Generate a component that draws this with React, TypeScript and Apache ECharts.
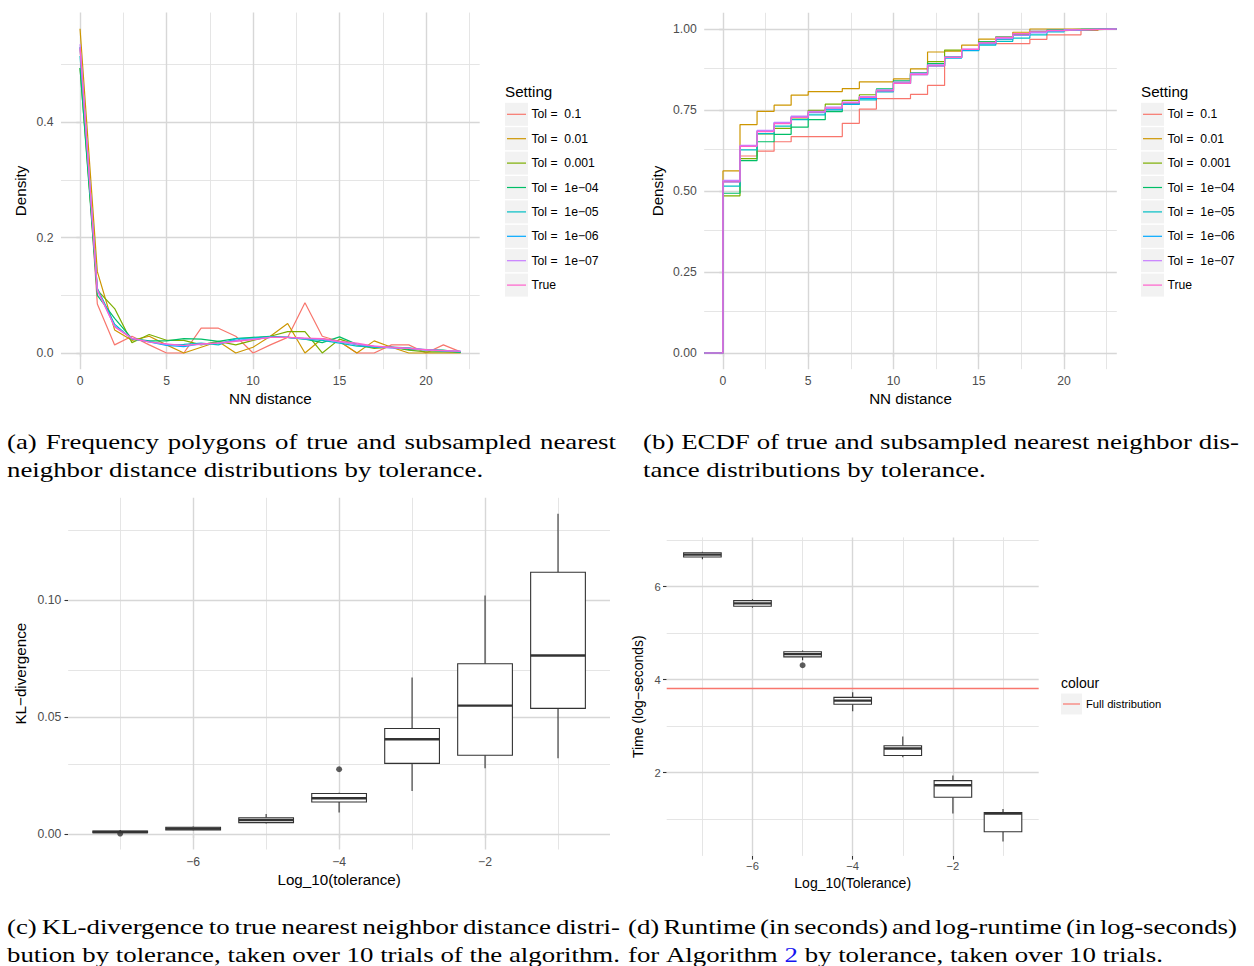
import React, { useEffect, useRef } from "react";
import * as echarts from "echarts";

// ---------- data ----------
// Nearest-neighbour distance (x of panels a and b)
const nnDistance = [0, 1, 2, 3, 4, 5, 6, 7, 8, 9, 10, 11, 12, 13, 14, 15, 16, 17, 18, 19, 20, 21, 22];

const settingLabels = [
  "Tol = \u00A00.1",
  "Tol = \u00A00.01",
  "Tol = \u00A00.001",
  "Tol = \u00A01e\u221204",
  "Tol = \u00A01e\u221205",
  "Tol = \u00A01e\u221206",
  "Tol = \u00A01e\u221207",
  "True",
];
const settingColors = ["#F8766D", "#CD9600", "#7CAE00", "#00BE67", "#00BFC4", "#00A9FF", "#C77CFF", "#FF61CC"];

// Frequency polygons (density per NN distance)
const densityTol1e1 = [0.53, 0.085, 0.014, 0.029, 0.014, 0, 0, 0.043, 0.043, 0.029, 0, 0.014, 0.027, 0.087, 0.029, 0.02, 0, 0, 0.014, 0.014, 0, 0.014, 0.002];
const densityTol1e2 = [0.562, 0.141, 0.04, 0.022, 0.029, 0.014, 0, 0.01, 0.02, 0, 0.01, 0.029, 0.051, 0, 0.025, 0.02, 0, 0.021, 0.01, 0, 0, 0, 0];
const densityTol1e3 = [0.494, 0.109, 0.077, 0.018, 0.032, 0.022, 0.022, 0.014, 0.02, 0.014, 0.022, 0.029, 0.037, 0.037, 0, 0.024, 0.014, 0.008, 0.01, 0.005, 0.002, 0.002, 0.001];
const densityTol1e4 = [0.494, 0.1, 0.06, 0.025, 0.021, 0.021, 0.025, 0.024, 0.02, 0.025, 0.027, 0.029, 0.027, 0.024, 0.018, 0.028, 0.015, 0.01, 0.01, 0.006, 0.006, 0.005, 0.001];
const densityTol1e5 = [0.515, 0.112, 0.05, 0.024, 0.02, 0.014, 0.015, 0.017, 0.014, 0.025, 0.026, 0.028, 0.027, 0.024, 0.022, 0.017, 0.012, 0.01, 0.01, 0.009, 0.005, 0.003, 0.002];
const densityTol1e6 = [0.53, 0.11, 0.047, 0.025, 0.019, 0.013, 0.011, 0.016, 0.017, 0.022, 0.024, 0.027, 0.027, 0.025, 0.024, 0.019, 0.015, 0.011, 0.009, 0.008, 0.006, 0.004, 0.003];
const densityTol1e7 = [0.535, 0.108, 0.046, 0.026, 0.019, 0.015, 0.013, 0.015, 0.017, 0.021, 0.024, 0.027, 0.027, 0.025, 0.024, 0.019, 0.015, 0.012, 0.009, 0.008, 0.005, 0.004, 0.003];
const densityTrue = [0.528, 0.11, 0.045, 0.025, 0.019, 0.016, 0.013, 0.016, 0.017, 0.02, 0.023, 0.027, 0.027, 0.026, 0.025, 0.02, 0.017, 0.012, 0.01, 0.008, 0.006, 0.004, 0.003];

// Empirical CDF at each NN distance
const ecdfTol1e1 = [0.53, 0.608, 0.623, 0.652, 0.668, 0.668, 0.668, 0.709, 0.753, 0.785, 0.785, 0.798, 0.826, 0.912, 0.935, 0.955, 0.955, 0.955, 0.968, 0.982, 0.982, 0.996, 1.0];
const ecdfTol1e2 = [0.562, 0.705, 0.746, 0.765, 0.796, 0.807, 0.807, 0.816, 0.837, 0.837, 0.846, 0.877, 0.929, 0.932, 0.95, 0.969, 0.969, 0.99, 1.0, 1.0, 1.0, 1.0, 1.0];
const ecdfTol1e3 = [0.485, 0.6, 0.676, 0.693, 0.726, 0.749, 0.768, 0.78, 0.797, 0.81, 0.834, 0.863, 0.899, 0.935, 0.935, 0.96, 0.975, 0.983, 0.99, 0.995, 0.997, 0.998, 1.0];
const ecdfTol1e4 = [0.493, 0.594, 0.652, 0.675, 0.697, 0.72, 0.745, 0.77, 0.79, 0.815, 0.84, 0.865, 0.893, 0.915, 0.935, 0.96, 0.975, 0.985, 0.993, 0.997, 0.999, 1.0, 1.0];
const ecdfTol1e5 = [0.515, 0.627, 0.677, 0.7, 0.72, 0.735, 0.75, 0.767, 0.781, 0.806, 0.832, 0.86, 0.887, 0.911, 0.933, 0.95, 0.962, 0.972, 0.982, 0.991, 0.996, 0.999, 1.0];
const ecdfTol1e6 = [0.528, 0.638, 0.685, 0.71, 0.729, 0.742, 0.753, 0.769, 0.786, 0.808, 0.832, 0.859, 0.886, 0.911, 0.935, 0.954, 0.969, 0.98, 0.989, 0.994, 0.997, 0.999, 1.0];
const ecdfTol1e7 = [0.533, 0.641, 0.687, 0.712, 0.731, 0.746, 0.759, 0.774, 0.791, 0.812, 0.836, 0.863, 0.889, 0.914, 0.938, 0.957, 0.971, 0.981, 0.989, 0.994, 0.997, 0.999, 1.0];
const ecdfTrue = [0.528, 0.638, 0.683, 0.708, 0.727, 0.743, 0.756, 0.772, 0.789, 0.809, 0.832, 0.859, 0.886, 0.912, 0.937, 0.957, 0.974, 0.986, 0.993, 0.996, 0.998, 0.999, 1.0];

const densitySeries = [densityTol1e1, densityTol1e2, densityTol1e3, densityTol1e4, densityTol1e5, densityTol1e6, densityTol1e7, densityTrue];
const ecdfSeries = [ecdfTol1e1, ecdfTol1e2, ecdfTol1e3, ecdfTol1e4, ecdfTol1e5, ecdfTol1e6, ecdfTol1e7, ecdfTrue];

// Box-plot summaries by log10(tolerance)
const log10Tolerance = [-7, -6, -5, -4, -3, -2, -1];

const klLower = [0.0005, 0.0017, 0.0046, 0.0093, 0.0185, 0.0282, 0.0325];
const klQ1 = [0.0007, 0.0019, 0.005, 0.0138, 0.0303, 0.0338, 0.0538];
const klMedian = [0.001, 0.0024, 0.0061, 0.0154, 0.0406, 0.055, 0.0764];
const klQ3 = [0.0014, 0.003, 0.0071, 0.0174, 0.0452, 0.0729, 0.112];
const klUpper = [0.0018, 0.0033, 0.0087, 0.0178, 0.067, 0.102, 0.137];
const klOutliers = [[-7, 0.0003], [-4, 0.0278]];

const logTimeLower = [6.59, 5.55, 4.42, 3.32, 2.33, 1.12, 0.52];
const logTimeQ1 = [6.64, 5.58, 4.49, 3.47, 2.37, 1.47, 0.73];
const logTimeMedian = [6.69, 5.64, 4.55, 3.55, 2.52, 1.73, 1.12];
const logTimeQ3 = [6.73, 5.7, 4.6, 3.62, 2.58, 1.83, 1.14];
const logTimeUpper = [6.75, 5.73, 4.63, 3.73, 2.78, 1.94, 1.22];
const logTimeOutliers = [[-5, 4.31]];
const fullDistributionLogTime = 3.81;

// Captions (a word in [brackets] is a cross-reference link)
const captionA = ["(a) Frequency polygons of true and subsampled nearest", "neighbor distance distributions by tolerance."];
const captionB = ["(b) ECDF of true and subsampled nearest neighbor dis-", "tance distributions by tolerance."];
const captionC = ["(c) KL-divergence to true nearest neighbor distance distri-", "bution by tolerance, taken over 10 trials of the algorithm."];
const captionD = ["(d) Runtime (in seconds) and log-runtime (in log-seconds)", "for Algorithm [2] by tolerance, taken over 10 trials."];

// ---------- styling ----------
const SANS = "'Liberation Sans', Arial, Helvetica, sans-serif";
const SERIF = "'Liberation Serif', 'Times New Roman', serif";
const MAJOR = { color: "#D7D7D7", width: 1.4, type: "solid" };
const MINOR = { color: "#E2E2E2", width: 0.9, type: "solid" };

const minusFmt = (v: number) => (v < 0 ? "\u2212" + Math.abs(v) : String(v));

function gridLineSeries(idx: number, xMajor: number[], xMinor: number[], yMajor: number[], yMinor: number[]) {
  return {
    type: "line",
    xAxisIndex: idx,
    yAxisIndex: idx,
    data: [],
    silent: true,
    z: 1,
    markLine: {
      silent: true,
      z: 1,
      symbol: ["none", "none"],
      label: { show: false },
      emphasis: { disabled: true },
      data: [
        ...xMinor.map((v) => ({ xAxis: v, lineStyle: MINOR })),
        ...yMinor.map((v) => ({ yAxis: v, lineStyle: MINOR })),
        ...xMajor.map((v) => ({ xAxis: v, lineStyle: MAJOR })),
        ...yMajor.map((v) => ({ yAxis: v, lineStyle: MAJOR })),
      ],
    },
  };
}

function axis(
  idx: number,
  min: number,
  max: number,
  ticks: number[],
  fmt: (v: number) => string,
  name: string,
  nameGap: number,
  labelSize: number,
  nameSize: number,
  margin: number
) {
  return {
    type: "value",
    gridIndex: idx,
    min,
    max,
    axisLine: { show: false },
    splitLine: { show: false },
    axisTick: { show: true, length: 3.7, lineStyle: { color: "#333333", width: 1.1 }, customValues: ticks },
    axisLabel: {
      customValues: ticks,
      formatter: fmt,
      color: "#4D4D4D",
      fontSize: labelSize,
      fontFamily: SANS,
      margin,
    },
    name,
    nameLocation: "middle",
    nameGap,
    nameTextStyle: { color: "#000", fontSize: nameSize, fontFamily: SANS },
  };
}

function boxSeries(idx: number, stats: number[][]) {
  return {
    type: "custom",
    xAxisIndex: idx,
    yAxisIndex: idx,
    z: 3,
    silent: true,
    data: stats,
    encode: { x: 0, y: [1, 2, 3, 4, 5] },
    renderItem: (_params: any, api: any) => {
      const x = api.value(0);
      const lo = api.coord([x, api.value(1)]);
      const q1 = api.coord([x, api.value(2)]);
      const md = api.coord([x, api.value(3)]);
      const q3 = api.coord([x, api.value(4)]);
      const hi = api.coord([x, api.value(5)]);
      const half = api.size([0.75, 0])[0] / 2;
      const cx = md[0];
      const stroke = "#333333";
      return {
        type: "group",
        children: [
          { type: "line", shape: { x1: cx, y1: hi[1], x2: cx, y2: q3[1] }, style: { stroke, lineWidth: 1.1 } },
          { type: "line", shape: { x1: cx, y1: q1[1], x2: cx, y2: lo[1] }, style: { stroke, lineWidth: 1.1 } },
          {
            type: "rect",
            shape: { x: cx - half, y: q3[1], width: half * 2, height: q1[1] - q3[1] },
            style: { fill: "#FFFFFF", stroke, lineWidth: 1.1 },
          },
          { type: "line", shape: { x1: cx - half, y1: md[1], x2: cx + half, y2: md[1] }, style: { stroke, lineWidth: 2.4 } },
        ],
      };
    },
  };
}

function outlierSeries(idx: number, pts: number[][]) {
  return {
    type: "scatter",
    xAxisIndex: idx,
    yAxisIndex: idx,
    z: 4,
    silent: true,
    symbolSize: 6,
    itemStyle: { color: "#333333" },
    data: pts,
  };
}

function textEl(x: number, y: number, text: string, size: number, fill = "#000", family = SANS) {
  return {
    type: "text",
    x,
    y,
    silent: true,
    style: {
      text,
      fill,
      fontSize: size,
      fontFamily: family,
      textAlign: "left",
      align: "left",
      textVerticalAlign: "middle",
      verticalAlign: "middle",
    },
  };
}

function settingLegend(left: number) {
  const els: any[] = [textEl(left, 91.3, "Setting", 15.2)];
  settingLabels.forEach((lab, i) => {
    const cy = 114.3 + 24.4 * i;
    els.push({ type: "rect", silent: true, shape: { x: left, y: cy - 11.5, width: 23, height: 23 }, style: { fill: "#F2F2F2" } });
    els.push({
      type: "line",
      silent: true,
      shape: { x1: left + 2, y1: cy, x2: left + 21, y2: cy },
      style: { stroke: settingColors[i], lineWidth: 1.2 },
    });
    els.push(textEl(left + 26.5, cy, lab, 12.2));
  });
  return els;
}

function colourLegend() {
  const left = 1061;
  const cy = 704;
  return [
    textEl(left, 683.3, "colour", 14),
    { type: "rect", silent: true, shape: { x: left, y: cy - 10.5, width: 21, height: 21 }, style: { fill: "#F2F2F2" } },
    { type: "line", silent: true, shape: { x1: left + 2, y1: cy, x2: left + 19, y2: cy }, style: { stroke: "#F8766D", lineWidth: 1.2 } },
    textEl(left + 25, cy, "Full distribution", 11.2),
  ];
}

// Justified serif captions laid out word by word
function captionElements(
  scale: number,
  measure: (s: string) => number,
  lines: string[],
  left: number,
  right: number,
  y0: number,
  justifyLast = false
) {
  const els: any[] = [];
  const lineGap = 28;
  lines.forEach((line, li) => {
    const raw = line.split(" ");
    const words = raw.map((w) => w.replace(/^\[(.*)\]$/, "$1"));
    const links = raw.map((w) => /^\[.*\]$/.test(w));
    const widths = words.map((w) => measure(w) * scale);
    const total = widths.reduce((a, b) => a + b, 0);
    const natural = li === lines.length - 1 && !justifyLast;
    const gap = natural ? measure(" ") * scale : (right - left - total) / (words.length - 1);
    let x = left;
    words.forEach((w, i) => {
      const el = textEl(x, y0 + li * lineGap, w, 22, links[i] ? "#1515F0" : "#000000", SERIF) as any;
      el.scaleX = scale;
      els.push(el);
      x += widths[i] + gap;
    });
  });
  return els;
}

function buildOption() {
  const canvas = document.createElement("canvas");
  const ctx = canvas.getContext("2d")!;
  ctx.font = `22px ${SERIF}`;
  const measure = (s: string) => ctx.measureText(s).width;
  const refLine = captionD[1].replace(/\[(.*?)\]/g, "$1");
  const scale = 535 / measure(refLine);

  const xA: [number, number] = [-1.1, 23.1];
  const xC: [number, number] = [-7.7125, -0.2875];

  const series: any[] = [
    gridLineSeries(0, [0, 5, 10, 15, 20], [2.5, 7.5, 12.5, 17.5, 22.5], [0, 0.2, 0.4], [0.1, 0.3, 0.5]),
    gridLineSeries(1, [0, 5, 10, 15, 20], [2.5, 7.5, 12.5, 17.5, 22.5], [0, 0.25, 0.5, 0.75, 1], [0.125, 0.375, 0.625, 0.875]),
    gridLineSeries(2, [-6, -4, -2], [-7, -5, -3, -1], [0, 0.05, 0.1], [0.025, 0.075, 0.125]),
    gridLineSeries(3, [-6, -4, -2], [-7, -5, -3, -1], [2, 4, 6], [1, 3, 5, 7]),
  ];

  densitySeries.forEach((vals, s) => {
    series.push({
      type: "line",
      name: settingLabels[s],
      xAxisIndex: 0,
      yAxisIndex: 0,
      z: 3,
      silent: true,
      showSymbol: false,
      symbol: "none",
      lineStyle: { color: settingColors[s], width: 1.2 },
      itemStyle: { color: settingColors[s] },
      data: nnDistance.map((d, i) => [d, vals[i]]),
    });
  });

  ecdfSeries.forEach((vals, s) => {
    series.push({
      type: "line",
      name: settingLabels[s],
      xAxisIndex: 1,
      yAxisIndex: 1,
      z: 3,
      silent: true,
      step: "end",
      showSymbol: false,
      symbol: "none",
      lineStyle: { color: settingColors[s], width: 1.2 },
      itemStyle: { color: settingColors[s] },
      data: [[xA[0], 0], ...nnDistance.map((d, i) => [d, vals[i]]), [xA[1], vals[vals.length - 1]]],
    });
  });

  series.push(boxSeries(2, log10Tolerance.map((t, i) => [t, klLower[i], klQ1[i], klMedian[i], klQ3[i], klUpper[i]])));
  series.push(outlierSeries(2, klOutliers));
  series.push(boxSeries(3, log10Tolerance.map((t, i) => [t, logTimeLower[i], logTimeQ1[i], logTimeMedian[i], logTimeQ3[i], logTimeUpper[i]])));
  series.push(outlierSeries(3, logTimeOutliers));
  series.push({
    type: "line",
    xAxisIndex: 3,
    yAxisIndex: 3,
    data: [],
    silent: true,
    markLine: {
      silent: true,
      z: 2,
      symbol: ["none", "none"],
      label: { show: false },
      emphasis: { disabled: true },
      lineStyle: { color: "#F8766D", width: 1.3, type: "solid" },
      data: [{ yAxis: fullDistributionLogTime }],
    },
  });

  const graphicEls = [
    ...settingLegend(505),
    ...settingLegend(1141),
    ...colourLegend(),
    ...captionElements(scale, measure, captionA, 7, 616, 441),
    ...captionElements(scale, measure, captionB, 643, 1239, 441),
    ...captionElements(scale, measure, captionC, 7, 620, 926, true),
    ...captionElements(scale, measure, captionD, 628, 1237, 926),
  ];

  return {
    animation: false,
    backgroundColor: "#FFFFFF",
    grid: [
      { left: 61, top: 12.6, width: 418.7, height: 356.6, outerBoundsMode: "none", containLabel: false },
      { left: 704.2, top: 12.8, width: 412.6, height: 356.4, outerBoundsMode: "none", containLabel: false },
      { left: 68.2, top: 497.8, width: 541.8, height: 351.7, outerBoundsMode: "none", containLabel: false },
      { left: 666.7, top: 537.4, width: 372, height: 318.5, outerBoundsMode: "none", containLabel: false },
    ],
    xAxis: [
      axis(0, xA[0], xA[1], [0, 5, 10, 15, 20], (v) => String(v), "NN distance", 22, 12.2, 15.2, 6),
      axis(1, xA[0], xA[1], [0, 5, 10, 15, 20], (v) => String(v), "NN distance", 22, 12.2, 15.2, 6),
      axis(2, xC[0], xC[1], [-6, -4, -2], minusFmt, "Log_10(tolerance)", 22.5, 12.2, 15.2, 6.5),
      axis(3, xC[0], xC[1], [-6, -4, -2], minusFmt, "Log_10(Tolerance)", 20, 11.2, 14, 5),
    ],
    yAxis: [
      axis(0, -0.0281, 0.59, [0, 0.2, 0.4], (v) => v.toFixed(1), "Density", 33, 12.2, 15.2, 7.5),
      axis(1, -0.05, 1.05, [0, 0.25, 0.5, 0.75, 1], (v) => v.toFixed(2), "Density", 39, 12.2, 15.2, 7.5),
      axis(2, -0.0065, 0.1438, [0, 0.05, 0.1], (v) => v.toFixed(2), "KL\u2212divergence", 40, 12.2, 15.2, 7),
      axis(3, 0.21, 7.06, [2, 4, 6], (v) => String(v), "Time (log\u2212seconds)", 21.5, 11.2, 14, 6),
    ],
    series,
    graphic: { elements: graphicEls },
  };
}

export default function App() {
  const ref = useRef<HTMLDivElement>(null);
  useEffect(() => {
    document.body.style.margin = "0";
    const chart = echarts.init(ref.current!, null, { renderer: "svg" });
    chart.setOption(buildOption() as any);
    return () => chart.dispose();
  }, []);
  return <div ref={ref} style={{ width: 1254, height: 966, background: "#FFFFFF" }} />;
}
